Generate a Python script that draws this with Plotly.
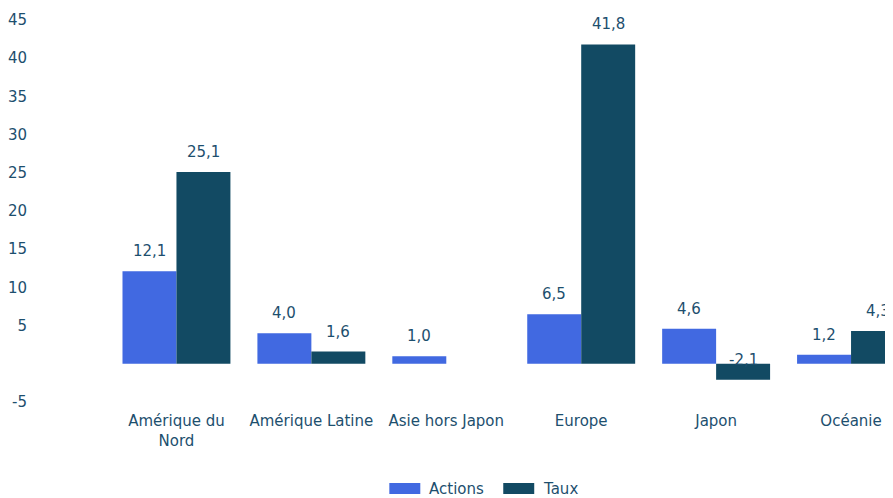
import plotly.graph_objects as go

categories = ["Amérique du<br>Nord", "Amérique Latine", "Asie hors Japon", "Europe", "Japon", "Océanie"]
actions = [12.1, 4.0, 1.0, 6.5, 4.6, 1.2]
taux = [25.1, 1.6, None, 41.8, -2.1, 4.3]
tick_vals = [-5, 5, 10, 15, 20, 25, 30, 35, 40, 45]
tick_text = ["-5", "5", "10", "15", "20", "25", "30", "35", "40", "45"]
series_names = ["Actions", "Taux"]

text_color = "#1D4F6E"
col_actions = "#4169E1"
col_taux = "#124A63"
font_family = "Verdana, DejaVu Sans, sans-serif"
FS = 15

def fmt(v):
    return ("%.1f" % v).replace(".", ",")

fig = go.Figure()
fig.add_trace(go.Bar(name=series_names[0], x=categories, y=actions, marker_color=col_actions,
                     marker_line_width=0))
fig.add_trace(go.Bar(name=series_names[1], x=categories, y=taux, marker_color=col_taux,
                     marker_line_width=0))

annotations = []
for series, shift in ((actions, -27), (taux, 27)):
    for c, v in zip(categories, series):
        if v is None:
            continue
        annotations.append(dict(x=c, y=v, text=fmt(v), showarrow=False, xshift=shift, yshift=20,
                                font=dict(size=FS, color=text_color, family=font_family)))

# custom legend (wide swatches); paper coords for a 784.5px wide plot area
shapes = []
PW = 784.5
def px(xf):
    return (xf - 100.5) / PW
legend_items = [(series_names[0], col_actions, px(381), px(412), px(419)),
                (series_names[1], col_taux, px(495), px(526), px(533))]
for name, col, x0, x1, xt in legend_items:
    shapes.append(dict(type="rect", xref="paper", yref="paper", x0=x0, x1=x1, y0=-0.2408, y1=-0.2120,
                       fillcolor=col, line=dict(width=0)))
    annotations.append(dict(xref="paper", yref="paper", x=xt, y=-0.2277, xanchor="left", yanchor="middle",
                            text=name, showarrow=False,
                            font=dict(size=FS, color=text_color, family=font_family)))

fig.update_layout(
    width=885, height=490,
    margin=dict(l=100.5, r=0, t=12, b=96),
    barmode="group", bargap=0.2, bargroupgap=0,
    plot_bgcolor="white", paper_bgcolor="white",
    font=dict(family=font_family, size=FS, color=text_color),
    showlegend=False,
    annotations=annotations,
    shapes=shapes,
)
fig.update_xaxes(range=[-0.5, 5.311], showgrid=False, zeroline=False, showline=False, ticklabelstandoff=8,
                 automargin=False, tickfont=dict(size=FS, color=text_color))
fig.update_yaxes(range=[-5, 45], tickvals=tick_vals, ticktext=tick_text, showgrid=False, zeroline=False,
                 showline=False, ticklabelstandoff=81, automargin=False,
                 tickfont=dict(size=FS, color=text_color))

fig.write_html("out.html")
